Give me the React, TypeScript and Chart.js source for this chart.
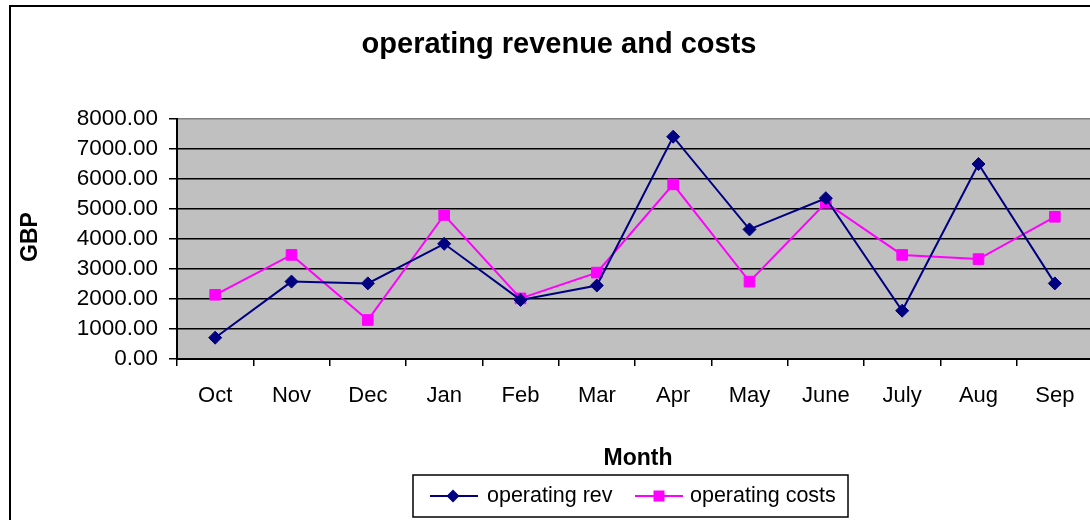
import { useEffect, useRef } from 'react';
import { Chart, registerables } from 'chart.js';

Chart.register(...registerables);

const months = ['Oct', 'Nov', 'Dec', 'Jan', 'Feb', 'Mar', 'Apr', 'May', 'June', 'July', 'Aug', 'Sep'];
const operatingRev = [710, 2580, 2520, 3840, 1970, 2450, 7410, 4320, 5360, 1610, 6500, 2520];
const operatingCosts = [2140, 3470, 1300, 4800, 2020, 2880, 5820, 2580, 5210, 3470, 3330, 4740];
const seriesNames = ['operating rev', 'operating costs'];
const seriesColors = ['#000080', '#FF00FF'];
const chartTitle = 'operating revenue and costs';
const xTitle = 'Month';
const yTitle = 'GBP';
const yMin = 0;
const yMax = 8000;
const yStep = 1000;

const FONT = "'Liberation Sans', Arial, sans-serif";
const W = 1110;
const H = 520;
const AREA_LEFT = 177;
const AREA_RIGHT = 1093;
const AREA_TOP = 119;
const AREA_BOTTOM = 359;

export default function App() {
  const ref = useRef<HTMLCanvasElement>(null);

  useEffect(() => {
    document.body.style.margin = '0';
    const canvas = ref.current!;

    const deco = {
      id: 'deco',
      beforeDraw(chart: any) {
        const { ctx, chartArea: a } = chart;
        ctx.save();
        ctx.fillStyle = '#fff';
        ctx.fillRect(0, 0, chart.width, chart.height);
        ctx.fillStyle = '#C0C0C0';
        ctx.fillRect(a.left, a.top, a.right - a.left, a.bottom - a.top);
        ctx.restore();
      },
      afterDraw(chart: any) {
        const ctx = chart.ctx as CanvasRenderingContext2D;
        ctx.save();
        // outer frame
        ctx.strokeStyle = '#000';
        ctx.lineWidth = 2;
        ctx.strokeRect(10, 6, chart.width + 40, chart.height + 40);

        // title
        ctx.fillStyle = '#000';
        ctx.textAlign = 'center';
        ctx.textBaseline = 'alphabetic';
        ctx.font = `bold 29px ${FONT}`;
        ctx.fillText(chartTitle, 559, 53);

        // axis titles
        ctx.font = `bold 23px ${FONT}`;
        ctx.fillText(xTitle, 638, 465);
        ctx.save();
        ctx.translate(37, 237);
        ctx.rotate(-Math.PI / 2);
        ctx.fillText(yTitle, 0, 0);
        ctx.restore();

        // legend
        ctx.fillStyle = '#fff';
        ctx.fillRect(413, 475, 435, 42);
        ctx.strokeStyle = '#000';
        ctx.lineWidth = 1.5;
        ctx.strokeRect(413, 475, 435, 42);
        const items = [
          { x0: 430, x1: 478, mx: 453, tx: 487 },
          { x0: 635, x1: 683, mx: 659, tx: 690 },
        ];
        const ly = 496;
        chart.data.datasets.forEach((ds: any, i: number) => {
          const it = items[i];
          ctx.strokeStyle = ds.borderColor;
          ctx.lineWidth = 2;
          ctx.beginPath();
          ctx.moveTo(it.x0, ly);
          ctx.lineTo(it.x1, ly);
          ctx.stroke();
          ctx.fillStyle = ds.backgroundColor;
          ctx.beginPath();
          if (ds.pointStyle === 'rectRot') {
            const r = 6.5;
            ctx.moveTo(it.mx, ly - r);
            ctx.lineTo(it.mx + r, ly);
            ctx.lineTo(it.mx, ly + r);
            ctx.lineTo(it.mx - r, ly);
            ctx.closePath();
          } else {
            ctx.rect(it.mx - 5.5, ly - 5.5, 11, 11);
          }
          ctx.fill();
          ctx.fillStyle = '#000';
          ctx.textAlign = 'left';
          ctx.font = `21.5px ${FONT}`;
          ctx.fillText(ds.label, it.tx, 502);
        });
        ctx.restore();
      },
    };

    const chart = new Chart(canvas, {
      type: 'line',
      data: {
        labels: months,
        datasets: [
          {
            label: seriesNames[0],
            data: operatingRev,
            borderColor: seriesColors[0],
            backgroundColor: seriesColors[0],
            borderWidth: 2,
            pointStyle: 'rectRot',
            pointRadius: 6.5,
            pointBorderWidth: 1,
            pointBackgroundColor: seriesColors[0],
            pointBorderColor: seriesColors[0],
            tension: 0,
          },
          {
            label: seriesNames[1],
            data: operatingCosts,
            borderColor: seriesColors[1],
            backgroundColor: seriesColors[1],
            borderWidth: 2,
            pointStyle: 'rect',
            pointRadius: 7.5,
            pointBorderWidth: 1,
            pointBackgroundColor: seriesColors[1],
            pointBorderColor: seriesColors[1],
            tension: 0,
          },
        ],
      },
      options: {
        responsive: false,
        animation: false,
        devicePixelRatio: 1,
        layout: { padding: { left: 0, right: W - AREA_RIGHT, top: AREA_TOP, bottom: 0 } },
        plugins: {
          legend: { display: false },
          title: { display: false },
          tooltip: { enabled: false },
        },
        scales: {
          x: {
            type: 'category',
            offset: true,
            grid: {
              offset: true,
              drawOnChartArea: false,
              tickLength: 7,
              tickColor: '#000',
              lineWidth: 1.5,
            },
            border: { color: '#000', width: 2 },
            ticks: {
              color: '#000',
              font: { family: FONT, size: 22 },
              padding: 17,
              maxRotation: 0,
              autoSkip: false,
            },
            afterFit: (s: any) => {
              s.height = H - AREA_BOTTOM;
            },
          },
          y: {
            min: yMin,
            max: yMax,
            ticks: {
              stepSize: yStep,
              color: '#000',
              font: { family: FONT, size: 22.5 },
              padding: 11,
              callback: (v: any) => Number(v).toFixed(2),
            },
            grid: {
              color: (c: any) => (c.tick && c.tick.value === yMax ? '#808080' : '#000'),
              tickColor: '#000',
              tickLength: 8,
              lineWidth: 1.5,
            },
            border: { color: '#000', width: 2 },
            afterFit: (s: any) => {
              s.width = AREA_LEFT;
            },
          },
        },
      },
      plugins: [deco],
    } as any);

    return () => chart.destroy();
  }, []);

  return (
    <div style={{ width: 1090, height: 520, overflow: 'hidden' }}>
      <canvas ref={ref} width={W} height={H} style={{ display: 'block', width: W, height: H }} />
    </div>
  );
}
